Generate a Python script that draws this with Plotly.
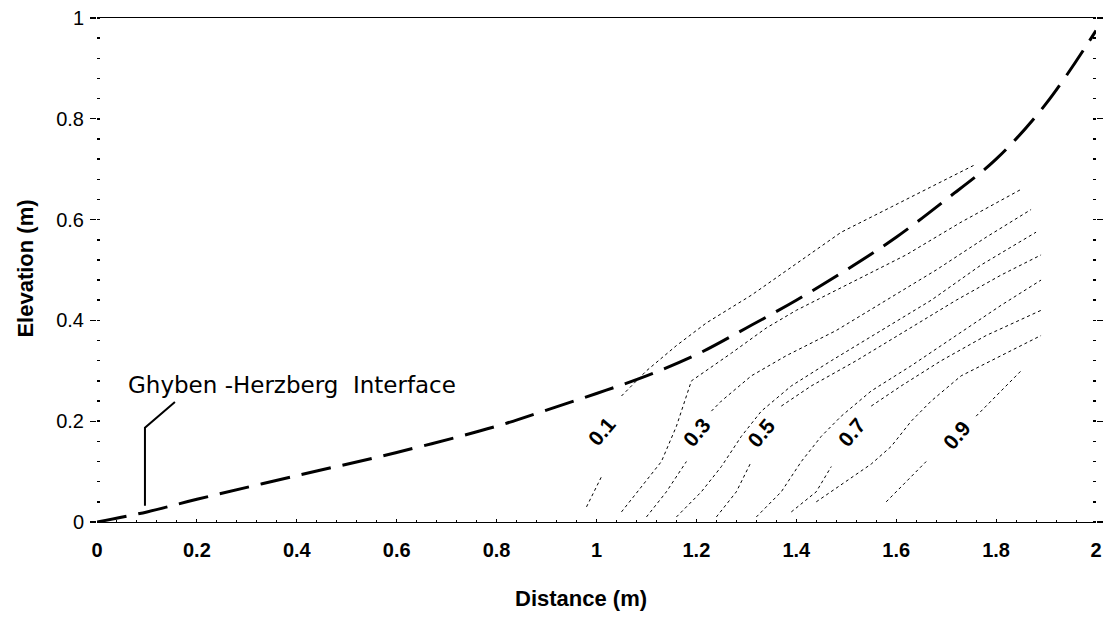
import plotly.graph_objects as go

# ---- Data ----
interface_x = [0, 0.1, 0.2, 0.4, 0.6, 0.8, 0.9, 1.0, 1.1, 1.2, 1.3, 1.4, 1.5, 1.6, 1.7, 1.8, 1.9, 2.0]
interface_y = [0, 0.02, 0.045, 0.092, 0.138, 0.19, 0.222, 0.255, 0.29, 0.332, 0.385, 0.44, 0.50, 0.565, 0.64, 0.72, 0.83, 0.975]

# concentration contours (None = gap for the label)
c01_x = [0.98, 1.01, None, 1.05, 1.10, 1.16, 1.22, 1.31, 1.41, 1.49, 1.59, 1.66, 1.76]
c01_y = [0.03, 0.09, None, 0.25, 0.30, 0.35, 0.395, 0.45, 0.52, 0.575, 0.625, 0.66, 0.71]
c02_x = [1.05, 1.09, 1.13, 1.16, 1.19, 1.27, 1.34, 1.40, 1.50, 1.62, 1.73, 1.85]
c02_y = [0.02, 0.07, 0.12, 0.19, 0.28, 0.335, 0.385, 0.42, 0.47, 0.53, 0.595, 0.66]
c03_x = [1.10, 1.14, 1.18, None, 1.23, 1.25, 1.31, 1.38, 1.48, 1.58, 1.68, 1.78, 1.87]
c03_y = [0.01, 0.06, 0.12, None, 0.22, 0.24, 0.29, 0.33, 0.38, 0.44, 0.50, 0.565, 0.62]
c04_x = [1.16, 1.21, 1.25, 1.29, 1.33, 1.39, 1.47, 1.57, 1.67, 1.77, 1.88]
c04_y = [0.01, 0.06, 0.11, 0.17, 0.22, 0.27, 0.32, 0.38, 0.44, 0.51, 0.575]
c05_x = [1.24, 1.28, 1.31, None, 1.37, 1.43, 1.52, 1.62, 1.72, 1.81, 1.89]
c05_y = [0.01, 0.06, 0.12, None, 0.23, 0.27, 0.32, 0.38, 0.44, 0.49, 0.53]
c06_x = [1.32, 1.37, 1.41, 1.45, 1.49, 1.55, 1.63, 1.72, 1.81, 1.89]
c06_y = [0.01, 0.06, 0.12, 0.17, 0.21, 0.26, 0.31, 0.37, 0.43, 0.48]
c07_x = [1.39, 1.44, 1.47, None, 1.55, 1.61, 1.69, 1.78, 1.89]
c07_y = [0.02, 0.06, 0.11, None, 0.23, 0.27, 0.32, 0.37, 0.42]
c08_x = [1.44, 1.50, 1.55, 1.59, 1.63, 1.67, 1.73, 1.81, 1.89]
c08_y = [0.04, 0.08, 0.115, 0.15, 0.20, 0.24, 0.29, 0.33, 0.37]
c09_x = [1.58, 1.63, 1.66, None, 1.76, 1.80, 1.85]
c09_y = [0.04, 0.09, 0.12, None, 0.21, 0.25, 0.30]

label_x = [1.01, 1.20, 1.33, 1.51, 1.72]
label_y = [0.18, 0.178, 0.178, 0.178, 0.172]
label_text = ["0.1", "0.3", "0.5", "0.7", "0.9"]

leader_x = [0.096, 0.096, 0.156]
leader_y = [0.032, 0.187, 0.238]
interface_label = "Ghyben -Herzberg  Interface"
interface_label_x = 0.058
interface_label_y = 0.272

x_title = "Distance (m)"
y_title = "Elevation (m)"

# ---- Figure ----
fig = go.Figure()

contours = [(c01_x, c01_y), (c02_x, c02_y), (c03_x, c03_y), (c04_x, c04_y), (c05_x, c05_y),
            (c06_x, c06_y), (c07_x, c07_y), (c08_x, c08_y), (c09_x, c09_y)]
for cx, cy in contours:
    fig.add_trace(go.Scatter(x=cx, y=cy, mode="lines", line=dict(color="black", width=1, dash="dot"),
                             connectgaps=False, showlegend=False, hoverinfo="skip"))

fig.add_trace(go.Scatter(x=interface_x, y=interface_y, mode="lines", line_shape="spline",
                         line=dict(color="black", width=3, dash="30px,12px"),
                         showlegend=False, hoverinfo="skip"))

fig.add_trace(go.Scatter(x=leader_x, y=leader_y, mode="lines", line=dict(color="black", width=2),
                         showlegend=False, hoverinfo="skip"))

for lx, ly, lt in zip(label_x, label_y, label_text):
    fig.add_annotation(x=lx, y=ly, text="<b>" + lt + "</b>", showarrow=False, textangle=-50,
                       font=dict(family="Liberation Sans", size=21, color="black"))

fig.add_annotation(x=interface_label_x, y=interface_label_y, text=interface_label, showarrow=False,
                   xanchor="left", yanchor="middle",
                   font=dict(family="DejaVu Sans", size=23, color="black"))

# axis titles as paper annotations
fig.add_annotation(xref="paper", yref="paper", x=0.484, y=-0.151, text="<b>" + x_title + "</b>",
                   showarrow=False, xanchor="center", yanchor="middle",
                   font=dict(family="Liberation Sans", size=22, color="black"))
fig.add_annotation(xref="paper", yref="paper", x=-0.072, y=0.503, text="<b>" + y_title + "</b>",
                   showarrow=False, xanchor="center", yanchor="middle", textangle=-90,
                   font=dict(family="Liberation Sans", size=22, color="black"))

fig.update_xaxes(range=[0, 2], dtick=0.2, tick0=0, showgrid=False, zeroline=False, automargin=False,
                 showline=True, mirror=True, linecolor="black", linewidth=1.3,
                 ticks="inside", ticklen=3, tickcolor="black",
                 minor=dict(ticks="inside", ticklen=2, dtick=0.04, tickcolor="black"),
                 ticklabelstandoff=10,
                 tickfont=dict(family="Liberation Sans", size=20, color="black", weight="bold"))
fig.update_yaxes(range=[0, 1], dtick=0.2, tick0=0, showgrid=False, zeroline=False, automargin=False,
                 showline=False, mirror="ticks",
                 ticks="outside", ticklen=6, tickcolor="black", tickwidth=1.2,
                 minor=dict(ticks="inside", ticklen=3, dtick=0.04, tickcolor="black", tickwidth=1.5),
                 ticklabelstandoff=2,
                 tickfont=dict(family="Liberation Sans", size=20, color="black"))

fig.update_layout(width=1106, height=622, margin=dict(l=97, r=10, t=18, b=100),
                  plot_bgcolor="white", paper_bgcolor="white")

fig.write_html("out.html", config={"displayModeBar": False, "staticPlot": True},
               post_script="document.body.style.margin='0';document.body.style.overflow='hidden';")
